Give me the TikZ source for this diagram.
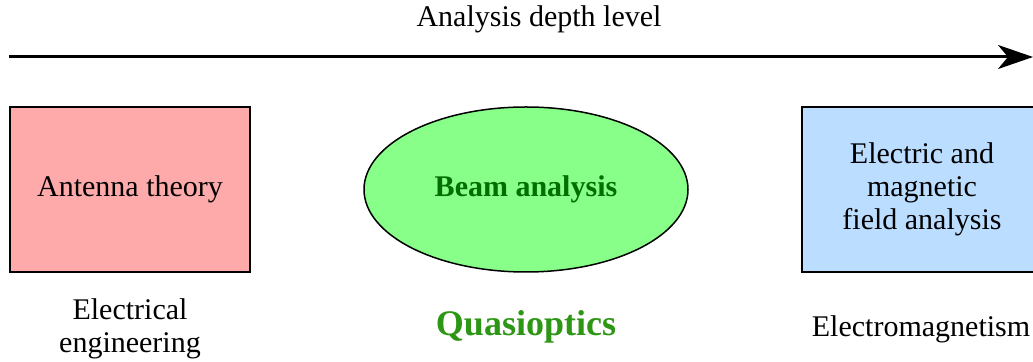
\documentclass[tikz,border=0pt]{standalone}
\usepackage{fontspec}
\setmainfont{Liberation Serif}
\usepackage{xcolor}
\definecolor{TheoryRed}{RGB}{255,170,170}
\definecolor{BeamGreen}{RGB}{136,255,136}
\definecolor{FieldBlue}{RGB}{187,221,255}
\definecolor{DarkGreen}{RGB}{0,110,0}
\definecolor{QuasiGreen}{RGB}{45,150,20}
\usetikzlibrary{arrows.meta,shapes.geometric}

\begin{document}
\begin{tikzpicture}[x=0.5pt, y=-0.5pt, font=\fontsize{15}{16.5}\selectfont,
    levelbox/.style={draw, line width=1pt, minimum width=120pt, minimum height=82.5pt, align=center}]
    \clip (0,0) rectangle (1033,362);

    % Axis
    \coordinate (start) at (9,57);
    \coordinate (end) at (1033,57);
    \draw[line width=1.5pt, -{Stealth[length=17.5pt, width=12pt, inset=5pt]}] (start) -- (end);
    \node (depth) at (539,19) {Analysis depth level};

    % Levels
    \node[levelbox, fill=TheoryRed] (antenna) at (130,189.5) {Antenna theory};

    \node[ellipse, draw, line width=0.75pt, fill=BeamGreen, inner sep=0pt,
          minimum width=162pt, minimum height=82.5pt,
          font=\fontsize{15}{16.5}\selectfont\bfseries, text=DarkGreen] (beam) at (526,189.5) {Beam analysis};

    \node[levelbox, fill=FieldBlue] (field) at (922,189.5) {Electric and\\magnetic\\field analysis};

    % Fields
    \node[align=center] (electrical) at (130,329) {Electrical\\engineering};
    \node[text=QuasiGreen, font=\fontsize{18}{20}\selectfont\bfseries] (quasi) at (526,327) {Quasioptics};
    \node (em) at (921,329) {Electromagnetism};
\end{tikzpicture}
\end{document}
